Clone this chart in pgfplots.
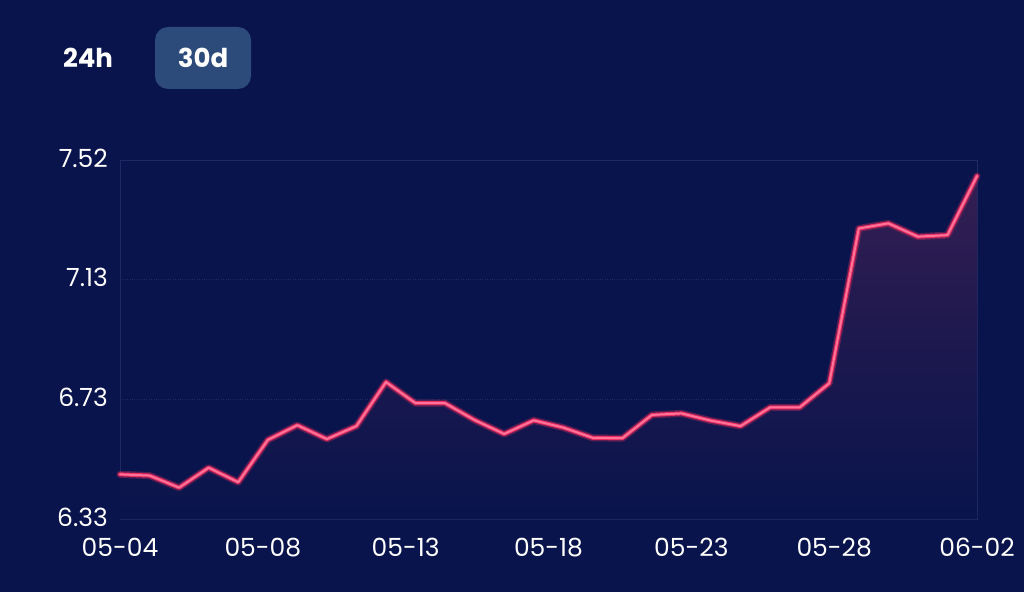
\documentclass[border=0pt]{standalone}
\usepackage{pgfplots}
\pgfplotsset{compat=1.18}
\usepackage{fontspec}
\setmainfont{Poppins}
\definecolor{bg}{RGB}{9,20,76}
\definecolor{gridc}{RGB}{30,42,100}
\definecolor{btn}{RGB}{44,74,122}
\definecolor{linec}{RGB}{255,115,155}
\definecolor{glow}{RGB}{235,45,95}
\definecolor{fillc}{RGB}{52,30,82}

\pgfplotstableread{
x y
0 6.478
1 6.474
2 6.434
3 6.500
4 6.452
5 6.592
6 6.641
7 6.595
8 6.638
9 6.784
10 6.714
11 6.714
12 6.658
13 6.612
14 6.657
15 6.633
16 6.599
17 6.598
18 6.675
19 6.680
20 6.656
21 6.638
22 6.700
23 6.700
24 6.780
25 7.293
26 7.310
27 7.266
28 7.271
29 7.467
}\pricedata

\begin{document}
\begin{tikzpicture}[x=1pt,y=1pt]
\fill[bg] (0,0) rectangle (1024,592);
\useasboundingbox (0,0) rectangle (1024,592);
\fill[btn, rounded corners=13pt] (155,503) rectangle (251,565);
\node[text=white, font=\fontsize{26}{30}\selectfont\bfseries] at (88,534) {24h};
\node[text=white, font=\fontsize{26}{30}\selectfont\bfseries] at (203,534) {30d};
\begin{axis}[
  at={(120pt,73pt)}, anchor=south west,
  scale only axis, width=857pt, height=359pt,
  xmin=0, xmax=29, ymin=6.33, ymax=7.52,
  xtick={0,4.8333,9.6667,14.5,19.3333,24.1667,29},
  xticklabels={05-04,05-08,05-13,05-18,05-23,05-28,06-02},
  ytick={6.33,6.7267,7.1233,7.52},
  yticklabels={6.33,6.73,7.13,7.52},
  major tick length=0pt,
  tick style={draw=none},
  ticklabel style={text=white, font=\fontsize{25}{30}\selectfont},
  xticklabel style={anchor=north, inner sep=0pt, yshift=-19pt},
  yticklabel style={anchor=east, inner sep=0pt, xshift=-12pt, yshift=2pt},
  axis line style={draw=gridc, line width=0.7pt},
  ymajorgrids,
  grid style={draw=gridc, dotted, line width=0.8pt},
  clip=false,
]
\addplot[draw=none, shading=axis, top color=fillc, bottom color=bg, middle color=bg!55!fillc, forget plot] table[x=x,y=y] {
x y
0 6.478
1 6.474
2 6.434
3 6.500
4 6.452
5 6.592
6 6.641
7 6.595
8 6.638
9 6.784
10 6.714
11 6.714
12 6.658
13 6.612
14 6.657
15 6.633
16 6.599
17 6.598
18 6.675
19 6.680
20 6.656
21 6.638
22 6.700
23 6.700
24 6.780
25 7.293
26 7.310
27 7.266
28 7.271
29 7.467
29 6.33
0 6.33
} -- cycle;
\addplot[glow, opacity=0.35, line width=7pt, line join=round, line cap=round] table[x=x,y=y] {\pricedata};
\addplot[glow, line width=4pt, line join=round, line cap=round] table[x=x,y=y] {\pricedata};
\addplot[linec, line width=2pt, line join=round, line cap=round] table[x=x,y=y] {\pricedata};
\end{axis}
\end{tikzpicture}
\end{document}
